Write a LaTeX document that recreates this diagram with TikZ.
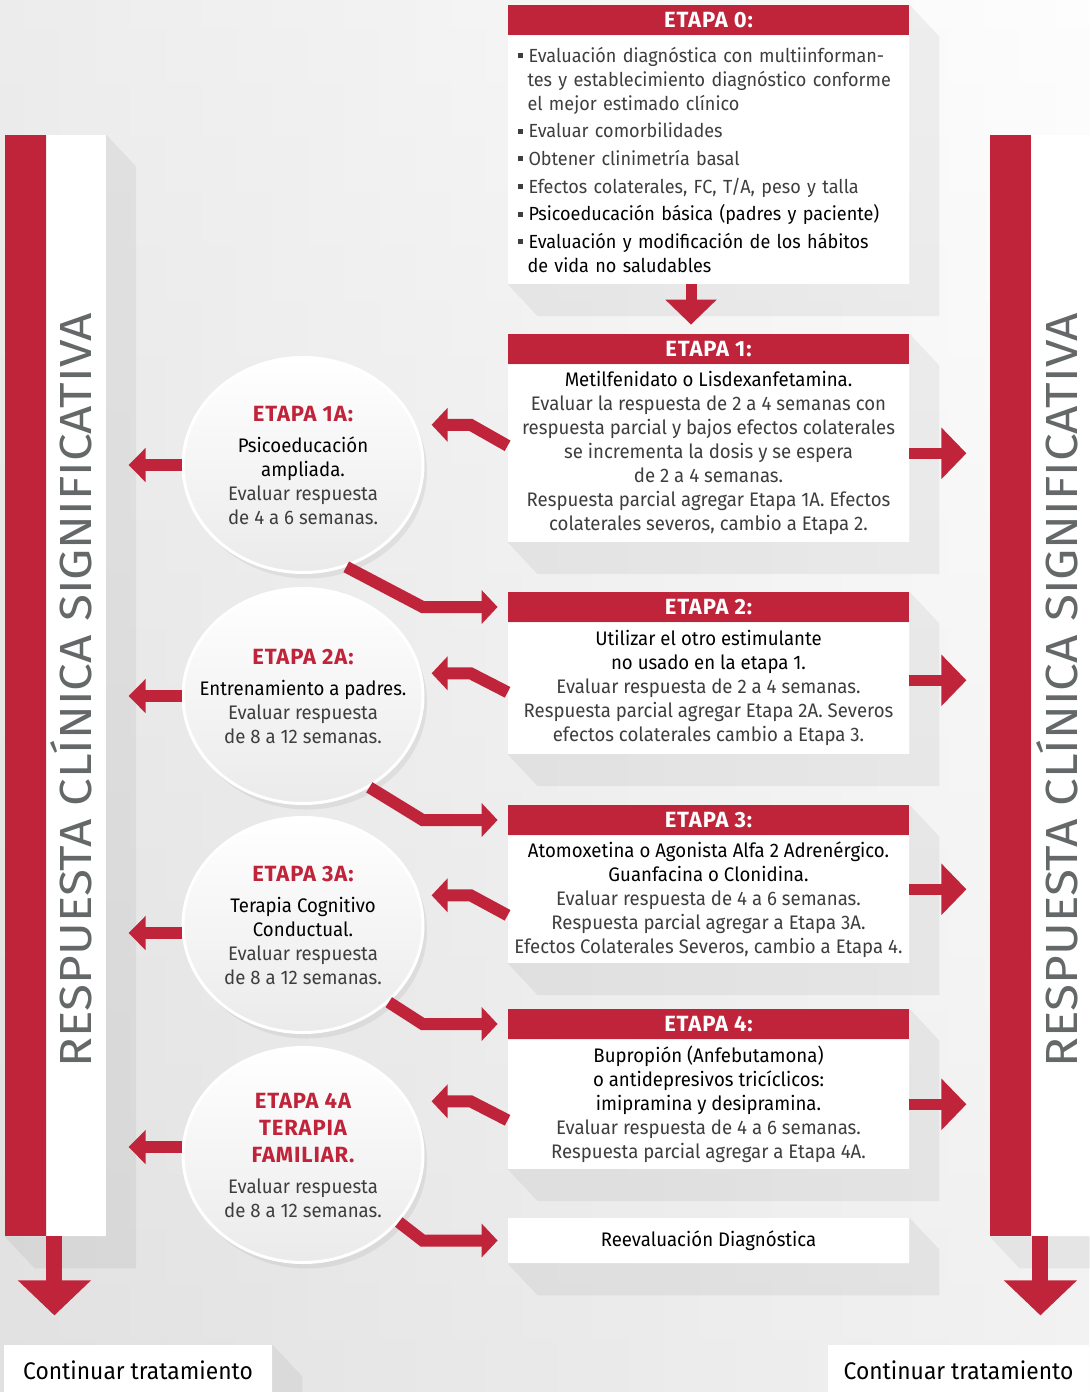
\documentclass[tikz,border=0pt]{standalone}
\usepackage{fontspec}
\setmainfont{Fira Sans}[FakeStretch=0.95]
\newfontfamily\headfont{Fira Sans}[UprightFont=* Bold, LetterSpace=4]
\newfontfamily\sidefont{Fira Sans}[FakeStretch=1.1]
\newfontfamily\contfont{Fira Sans}[FakeStretch=0.95]
\usetikzlibrary{arrows.meta, positioning, shapes.geometric, shadows}

\definecolor{etapared}{RGB}{192,36,58}
\definecolor{sidegray}{RGB}{100,104,104}
\definecolor{lighttext}{RGB}{62,62,62}

\newcommand{\drug}[1]{{\color{black}#1}}
\newcommand{\stitle}[1]{{\headfont\fontsize{11}{12}\selectfont\color{etapared}#1}}
\newcommand{\blt}{\makebox[5.5pt][l]{\rule[2pt]{2.5pt}{2.5pt}}}
\newcommand{\longshadow}[3]{%
    \fill[boxshade] (#1) -- ++(30,32) -- ([shift={(30,32)}]#2)
        -- ([shift={(30,32)}]#3) -- (#3) -- (#2) -- cycle;}

\begin{document}
\begin{tikzpicture}[
    x=0.5pt, y=-0.5pt,
    node distance=0pt,
    etapahead/.style={fill=etapared, text=white, minimum width=200.5pt, minimum height=15pt,
        inner sep=0pt, font=\headfont\fontsize{11}{12}\selectfont},
    etapabody/.style={fill=white, minimum width=200.5pt, inner sep=0pt, align=center,
        text=lighttext, font=\fontsize{9.8}{12}\selectfont},
    stagecircle/.style={ellipse, minimum width=120pt, minimum height=107.5pt, inner sep=0pt,
        draw=white, line width=1.5pt, top color=white, bottom color=black!8,
        drop shadow={shadow xshift=2pt, shadow yshift=-3pt, opacity=0.13}},
    stagetext/.style={align=center, inner sep=0pt, text=lighttext, font=\fontsize{9.8}{12}\selectfont},
    redbar/.style={fill=etapared, minimum width=20.5pt, minimum height=550.5pt, inner sep=0pt},
    sidestrip/.style={fill=white, minimum height=550.5pt, inner sep=0pt},
    sidelabel/.style={text=sidegray, font=\sidefont\fontsize{22.5}{24}\selectfont, rotate=90, anchor=base},
    contbox/.style={fill=white, minimum height=25pt, inner sep=0pt, font=\contfont\fontsize{12}{14}\selectfont},
    boxshade/.style={fill=black, fill opacity=0.05},
    sidearrow/.style={draw=etapared, line width=6pt, -{Triangle[length=8.5pt, width=16.5pt]}},
    bentarrow/.style={draw=etapared, line width=6pt, line join=miter, -{Triangle[length=8pt, width=16.5pt]}},
    bararrow/.style={draw=etapared, line width=5.5pt, -{Triangle[length=12.5pt, width=25pt]}},
    downarrow/.style={draw=etapared, line width=8pt, -{Triangle[length=17.5pt, width=35.5pt]}},
]

    \useasboundingbox (0,0) rectangle (1089,1392);
    \shade[left color=black!13, right color=black!1] (0,0) rectangle (1089,1392);
    \shade[top color=white, bottom color=black!10, opacity=0.45] (0,0) rectangle (1089,1392);

    % columnas laterales
    \node[redbar] (redL) at (25.5,685.5) {};
    \node[sidestrip, minimum width=29.5pt, right=of redL] (stripL) {};
    \node[redbar] (redR) at (1010.5,685.5) {};
    \node[sidestrip, minimum width=29pt, right=of redR] (stripR) {};
    \longshadow{stripL.north east}{stripL.south east}{redL.south west}
    \longshadow{stripR.north east}{stripR.south east}{redR.south west}
    \node[sidelabel] (labL) at (91,690) {RESPUESTA CLÍNICA SIGNIFICATIVA};
    \node[sidelabel] (labR) at (1077,690) {RESPUESTA CLÍNICA SIGNIFICATIVA};

    % etapas
    \node[etapahead] (h0) at (708.5,20) {ETAPA 0:};
    \node[etapabody, below=of h0, minimum height=124pt, text width=191pt, align=left,
        font=\fontsize{9.5}{12}\selectfont] (e0) {%
        \blt Evaluación diagnóstica con multiinforman-\\
        \hspace*{5pt}tes y establecimiento diagnóstico conforme\\
        \hspace*{5pt}el mejor estimado clínico\\[1.8pt]
        \blt Evaluar comorbilidades\\[1.8pt]
        \blt Obtener clinimetría basal\\[1.8pt]
        \blt Efectos colaterales, FC, T/A, peso y talla\\[1.8pt]
        \blt \drug{Psicoeducación básica (padres y paciente)}\\[1.8pt]
        \blt \drug{Evaluación y modificación de los hábitos}\\
        \hspace*{5pt}\drug{de vida no saludables}};

    \node[etapahead] (h1) at (708.5,349) {ETAPA 1:};
    \node[etapabody, below=of h1, minimum height=88.5pt] (e1) {%
        \drug{Metilfenidato o Lisdexanfetamina.}\\
        Evaluar la respuesta de 2 a 4 semanas con\\
        respuesta parcial y bajos efectos colaterales\\
        se incrementa la dosis y se espera\\
        de 2 a 4 semanas.\\
        Respuesta parcial agregar Etapa 1A. Efectos\\
        colaterales severos, cambio a Etapa 2.};

    \node[etapahead] (h2) at (708.5,607) {ETAPA 2:};
    \node[etapabody, below=of h2, minimum height=65.5pt] (e2) {%
        \drug{Utilizar el otro estimulante}\\
        \drug{no usado en la etapa 1.}\\
        Evaluar respuesta de 2 a 4 semanas.\\
        Respuesta parcial agregar Etapa 2A. Severos\\
        efectos colaterales cambio a Etapa 3.};

    \node[etapahead] (h3) at (708.5,820) {ETAPA 3:};
    \node[etapabody, below=of h3, minimum height=63.5pt] (e3) {%
        \drug{Atomoxetina o Agonista Alfa 2 Adrenérgico.}\\
        \drug{Guanfacina o Clonidina.}\\
        Evaluar respuesta de 4 a 6 semanas.\\
        Respuesta parcial agregar a Etapa 3A.\\
        Efectos Colaterales Severos, cambio a Etapa 4.};

    \node[etapahead] (h4) at (708.5,1024) {ETAPA 4:};
    \node[etapabody, below=of h4, minimum height=64.5pt] (e4) {%
        \drug{Bupropión (Anfebutamona)}\\
        \drug{o antidepresivos tricíclicos:}\\
        \drug{imipramina y desipramina.}\\
        Evaluar respuesta de 4 a 6 semanas.\\
        Respuesta parcial agregar a Etapa 4A.};

    \node[etapabody, minimum height=22.5pt] (rv) at (708.5,1240.5) {\drug{Reevaluación Diagnóstica}};

    \node[contbox, minimum width=134pt] (contL) at (138,1370) {Continuar tratamiento};
    \node[contbox, minimum width=130.5pt] (contR) at (958.5,1370) {Continuar tratamiento};

    \longshadow{h0.north east}{e0.south east}{e0.south west}
    \longshadow{h1.north east}{e1.south east}{e1.south west}
    \longshadow{h2.north east}{e2.south east}{e2.south west}
    \longshadow{h3.north east}{e3.south east}{e3.south west}
    \longshadow{h4.north east}{e4.south east}{e4.south west}
    \longshadow{rv.north east}{rv.south east}{rv.south west}
    \longshadow{contL.north east}{contL.south east}{contL.south west}

    % etapas A
    \node[stagecircle] (c1) at (303,465) {};
    \node[stagecircle] (c2) at (303,696) {};
    \node[stagecircle] (c3) at (303,925) {};
    \node[stagecircle] (c4) at (303,1155) {};
    \node[stagetext] (t1) at (c1) {\stitle{ETAPA 1A:}\\[3.5pt]
        \drug{Psicoeducación}\\ \drug{ampliada.}\\ Evaluar respuesta\\ de 4 a 6 semanas.};
    \node[stagetext] (t2) at (c2) {\stitle{ETAPA 2A:}\\[3.5pt]
        \drug{Entrenamiento a padres.}\\ Evaluar respuesta\\ de 8 a 12 semanas.};
    \node[stagetext] (t3) at (c3) {\stitle{ETAPA 3A:}\\[3.5pt]
        \drug{Terapia Cognitivo}\\ \drug{Conductual.}\\ Evaluar respuesta\\ de 8 a 12 semanas.};
    \node[stagetext] (t4) at (c4) {\stitle{ETAPA 4A}\\[1.5pt] \stitle{TERAPIA}\\[1.5pt]
        \stitle{FAMILIAR.}\\[3.5pt] Evaluar respuesta\\ de 8 a 12 semanas.};

    % flechas
    \draw[bararrow, shorten >=4.5pt] ([xshift=-8.75pt]e0.south) -- ([xshift=-8.75pt]h1.north);

    \draw[bararrow] (e1.east) -- ++(57,0);
    \draw[bararrow] ([yshift=4pt]e2.east) -- ++(57,0);
    \draw[bararrow] ([yshift=5pt]e3.east) -- ++(57,0);
    \draw[bararrow] (e4.east) -- ++(57,0);

    \draw[bentarrow] ([yshift=3.75pt]e1.west) -- ++(-37,-21) -- ++(-39,0);
    \draw[bentarrow] ([yshift=-2pt]e2.west) -- ++(-37,-19) -- ++(-39,0);
    \draw[bentarrow] ([yshift=-8pt]e3.west) -- ++(-37,-20) -- ++(-39,0);
    \draw[bentarrow] ([yshift=-8pt]e4.west) -- ++(-37,-19) -- ++(-39,0);

    \draw[bentarrow, shorten >=5pt] (c1.-67) -- ([xshift=-42.5pt]h2.west) -- (h2.west);
    \draw[bentarrow, shorten >=5pt] (c2.-54) -- ([xshift=-42.5pt]h3.west) -- (h3.west);
    \draw[bentarrow, shorten >=5pt] (c3.-42) -- ([xshift=-42.5pt]h4.west) -- (h4.west);
    \draw[bentarrow, shorten >=5pt] (c4.-35) -- ([xshift=-42.5pt]rv.west) -- (rv.west);

    \draw[sidearrow] (c1.west) -- ++(-53,0);
    \draw[sidearrow] (c2.west) -- ++(-53,0);
    \draw[sidearrow] ([yshift=-4pt]c3.west) -- ++(-53,0);
    \draw[sidearrow] ([yshift=4pt]c4.west) -- ++(-53,0);

    \draw[downarrow] ([xshift=4pt]redL.south east) -- ++(0,79);
    \draw[downarrow] ([xshift=4.5pt]redR.south east) -- ++(0,79);
\end{tikzpicture}
\end{document}
